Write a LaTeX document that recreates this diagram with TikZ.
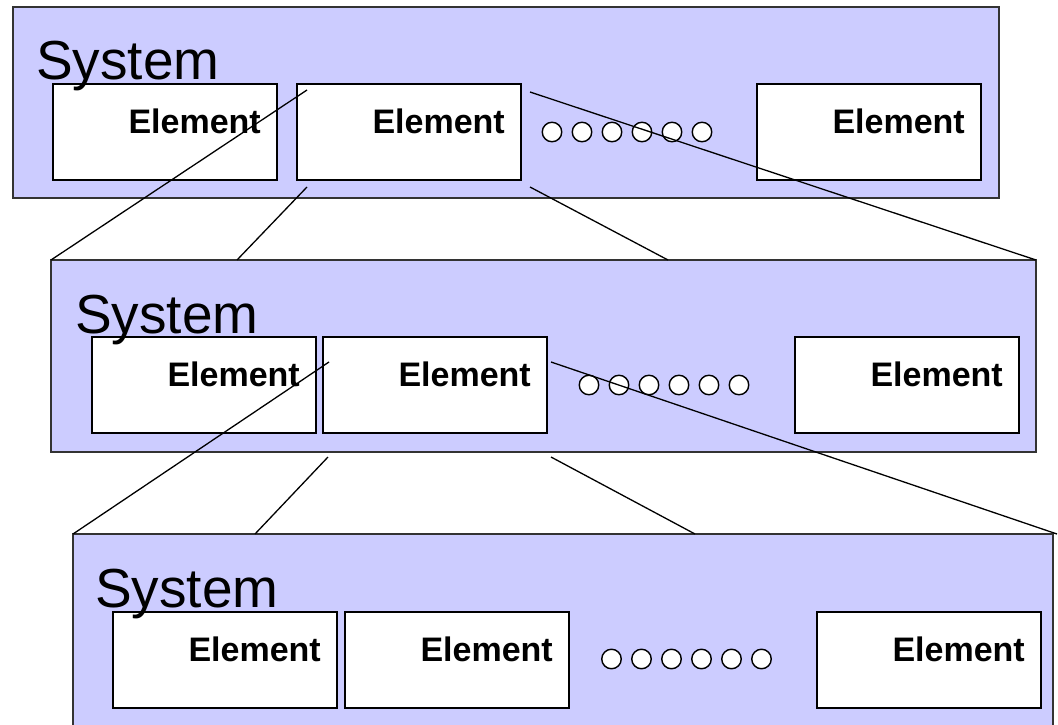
\documentclass[tikz,border=0pt]{standalone}
\usepackage{fontspec}
\setmainfont{Liberation Sans}
\usetikzlibrary{calc}
\definecolor{sysfill}{HTML}{CCCCFF}
\begin{document}
\begin{tikzpicture}[x=1pt,y=-1pt,
  sysbox/.style={draw=black!80, line width=1.2pt, fill=sysfill, anchor=north west, inner sep=0pt, outer sep=0pt},
  elembox/.style={draw=black, line width=1.6pt, fill=white, anchor=north west, minimum width=224pt, minimum height=96pt, inner sep=0pt, outer sep=0pt},
  systext/.style={anchor=base west, inner sep=0pt, font=\fontsize{55}{60}\selectfont},
  elemtext/.style={anchor=base east, inner sep=0pt, font=\fontsize{34}{40}\selectfont\bfseries},
  dot/.style={circle, draw=black, line width=1.4pt, fill=white, minimum size=19.5pt, inner sep=0pt},
  link/.style={draw=black, line width=1.3pt}]
\path[use as bounding box] (0,0) rectangle (1058,725);
\clip (0,0) rectangle (1058,725);

% system boxes
\node[sysbox, minimum width=986pt, minimum height=191pt] (s1) at (13,7) {};
\node[sysbox, minimum width=985pt, minimum height=192pt] (s2) at (51,260) {};
\node[sysbox, minimum width=980pt, minimum height=215pt] (s3) at (73,534) {};

% elements, level 1
\node[elembox] (e11) at (53,84) {};
\node[elembox] (e12) at (297,84) {};
\node[elembox] (e13) at (757,84) {};
% level 2
\node[elembox] (e21) at (92,337) {};
\node[elembox] (e22) at (323,337) {};
\node[elembox] (e23) at (795,337) {};
% level 3
\node[elembox] (e31) at (113,612) {};
\node[elembox] (e32) at (345,612) {};
\node[elembox] (e33) at (817,612) {};

% system titles (drawn over the element boxes)
\node[systext] (t1) at (36,80) {System};
\node[systext] (t2) at (75,333) {System};
\node[systext] (t3) at (95,607) {System};

\foreach \e in {e11,e12,e13,e21,e22,e23,e31,e32,e33}
  \node[elemtext] (l\e) at ($(\e.north east)+(-16,49)$) {Element};

% dots
\foreach \k in {0,...,5} {
  \node[dot] (da\k) at (552+30*\k,132) {};
  \node[dot] (db\k) at (589+30*\k,385) {};
  \node[dot] (dc\k) at (611.5+30*\k,659) {};
}

% connectors level 1 -> 2
\coordinate (p1a) at (307,90);
\coordinate (p1b) at (307,187);
\coordinate (q1b) at (237,260);
\coordinate (p1c) at (530,92);
\coordinate (p1d) at (530,187);
\coordinate (q1d) at (668,260);
\draw[link] (p1a) -- (s2.north west);
\draw[link] (p1b) -- (q1b);
\draw[link] (p1c) -- (s2.north east);
\draw[link] (p1d) -- (q1d);

% connectors level 2 -> 3
\coordinate (p2a) at (329,362);
\coordinate (p2b) at (328,457);
\coordinate (q2b) at (255,534);
\coordinate (p2c) at (551,362);
\coordinate (q2c) at (1057,534);
\coordinate (p2d) at (551,457);
\coordinate (q2d) at (695,534);
\draw[link] (p2a) -- (s3.north west);
\draw[link] (p2b) -- (q2b);
\draw[link] (p2c) -- (q2c);
\draw[link] (p2d) -- (q2d);
\end{tikzpicture}
\end{document}
